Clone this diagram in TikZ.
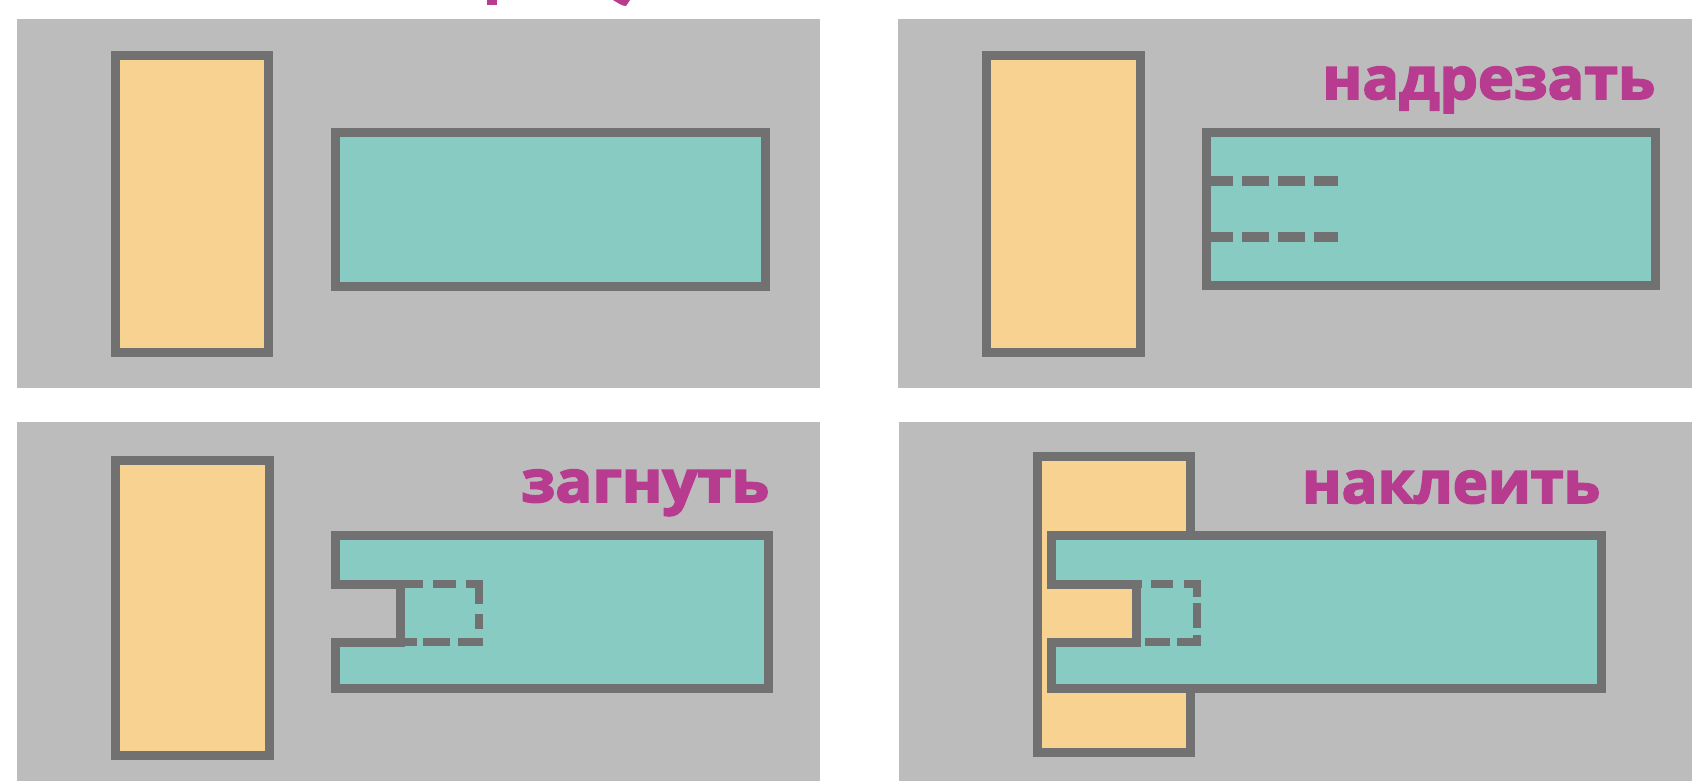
\documentclass[tikz,border=0pt]{standalone}
\usepackage{fontspec}
\usepackage{graphicx}
\newfontfamily\lblfont[FakeBold=3]{Open Sans Bold}
\definecolor{panelgray}{HTML}{BDBCBD}
\definecolor{edgegray}{HTML}{727171}
\definecolor{paperorange}{HTML}{F7D290}
\definecolor{paperteal}{HTML}{87CBC3}
\definecolor{labelmag}{HTML}{B73B8E}
\newcommand{\lbltext}[2]{\resizebox{#1pt}{\height}{\lblfont\fontsize{58}{60}\selectfont #2}}
\tikzset{
  panel/.style={fill=panelgray},
  orangepaper/.style={fill=paperorange,draw=edgegray,line width=9pt},
  tealpaper/.style={fill=paperteal,draw=edgegray,line width=9pt},
  cutline/.style={draw=edgegray,line width=10pt,dash pattern=on 27pt off 9pt},
  foldline/.style={draw=edgegray,line width=8pt,line join=miter},
  lbl/.style={text=labelmag,inner sep=0pt,anchor=base west}
}
\begin{document}
\begin{tikzpicture}[x=1pt,y=-1pt]
\useasboundingbox (0,0) rectangle (1692,781);
\fill[white] (0,0) rectangle (1692,781);
% title fragments cut off at the top
\fill[labelmag] (487,0) rectangle (497,5);
\fill[labelmag] (613,0) .. controls (618,3) and (622,6) .. (626,6) -- (630,0) -- cycle;
% panels
\fill[panel] (17,19) rectangle (820,388);
\fill[panel] (898,19) rectangle (1692,388);
\fill[panel] (17,422) rectangle (820,781);
\fill[panel] (899,422) rectangle (1692,781);
% top-left
\draw[orangepaper] (115.5,55.5) rectangle (268.5,352.5);
\draw[tealpaper] (335.5,132.5) rectangle (765.5,286.5);
% top-right
\draw[orangepaper] (986.5,55.5) rectangle (1140.5,352.5);
\draw[tealpaper] (1206.5,132.5) rectangle (1655.5,285.5);
\draw[cutline] (1206,181) -- (1338,181);
\draw[cutline] (1206,237) -- (1338,237);
\node[lbl] (cut) at (1322,99) {\lbltext{333}{надрезать}};
% bottom-left
\draw[orangepaper] (115.5,460.5) rectangle (269.5,755.5);
\draw[tealpaper,line join=miter] (335.5,535.5) -- (768.5,535.5) -- (768.5,688.5) -- (335.5,688.5)
  -- (335.5,642) -- (400.5,642) -- (400.5,584) -- (335.5,584) -- cycle;
\draw[foldline,dash pattern=on 22.5pt off 9.5pt on 23pt off 10pt on 33pt off 10pt on 15pt off 9pt on 26pt off 8pt on 27pt off 6pt on 16pt off 0pt]
  (400.5,584) -- (479,584) -- (479,642) -- (400.5,642);
\node[lbl] (fold) at (521,502) {\lbltext{248}{загнуть}};
% bottom-right
\draw[orangepaper] (1037.5,456.5) rectangle (1190.5,752.5);
\draw[tealpaper,line join=miter] (1051.5,535.5) -- (1601.5,535.5) -- (1601.5,688.5) -- (1051.5,688.5)
  -- (1051.5,642) -- (1136,642) -- (1136,584) -- (1051.5,584) -- cycle;
\draw[foldline,dash pattern=on 6pt off 9pt on 22pt off 11pt on 26pt off 6pt on 25pt off 7pt on 27pt off 7pt on 25pt off 9pt]
  (1136,584) -- (1197,584) -- (1197,642) -- (1136,642);
\node[lbl] (glue) at (1302,503) {\lbltext{298}{наклеить}};
\end{tikzpicture}
\end{document}
